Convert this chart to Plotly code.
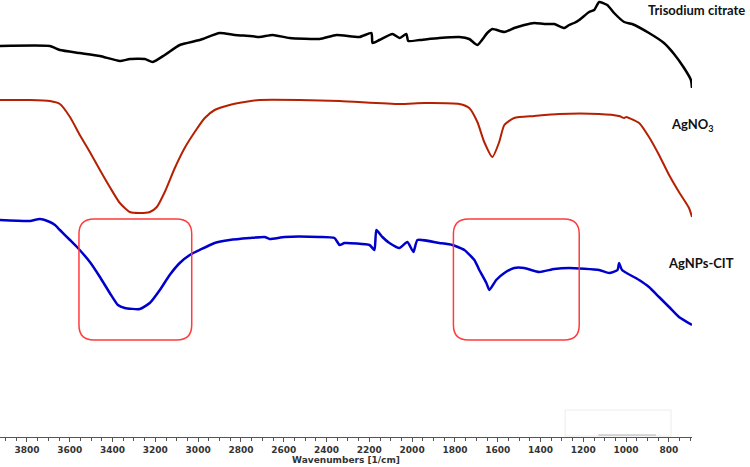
import plotly.graph_objects as go

# FTIR spectra (stacked, arbitrary transmittance offset)
wn_citrate = [3926, 3693, 3646, 3553, 3459, 3366, 3319, 3249, 3212, 3156,
              3086, 2993, 2899, 2829, 2759, 2713, 2652, 2573, 2433, 2353,
              2246, 2190, 2185, 2153, 2092, 2059, 2027, 2018, 1966, 1873,
              1779, 1733, 1695, 1649, 1625, 1569, 1523, 1476, 1429, 1383,
              1336, 1289, 1266, 1243, 1219, 1173, 1149, 1126, 1088, 1056,
              1009, 972, 893, 823, 776, 729, 697, 692]
t_citrate = [391, 391, 387, 384, 381, 376, 378, 378, 375, 382,
             392, 397, 404, 402, 401, 400, 402, 399, 398, 402,
             400, 404, 394, 397, 403, 399, 403, 396, 397, 399,
             400, 398, 392, 404, 408, 405, 409, 412, 414, 413,
             413, 409, 412, 414, 417, 425, 427, 435, 432, 424,
             415, 413, 404, 394, 383, 369, 357, 349]

wn_agno3 = [3926, 3786, 3693, 3646, 3599, 3553, 3506, 3459, 3413, 3366,
            3319, 3273, 3226, 3193, 3156, 3109, 3063, 3016, 2969, 2923,
            2853, 2783, 2713, 2526, 2339, 2059, 1943, 1779, 1733, 1695,
            1663, 1625, 1593, 1569, 1523, 1429, 1313, 1126, 1033, 1009,
            998, 986, 939, 893, 846, 799, 753, 706, 692]
t_agno3 = [337, 337, 336, 333, 320, 302, 285, 267, 250, 234,
           225, 224, 225, 230, 245, 269, 289, 305, 319, 327,
           332, 335, 337, 337, 336, 333, 334, 333, 329, 315,
           295, 280, 295, 312, 319, 321, 323, 323, 321, 319,
           320, 319, 314, 300, 282, 262, 245, 229, 220]

wn_agnps = [3926, 3786, 3740, 3693, 3669, 3646, 3599, 3562, 3506, 3459,
            3413, 3375, 3343, 3273, 3226, 3179, 3133, 3086, 3039, 2993,
            2923, 2853, 2759, 2689, 2666, 2596, 2433, 2363, 2339, 2316,
            2199, 2176, 2167, 2139, 2106, 2059, 2022, 1994, 1975, 1873,
            1812, 1756, 1709, 1686, 1653, 1639, 1607, 1569, 1523, 1476,
            1406, 1336, 1266, 1126, 1079, 1040, 1033, 1019, 939, 893,
            846, 799, 753, 692]
t_agnps = [217, 216, 218, 215, 212, 207, 197, 189, 175, 160,
           144, 132, 129, 128, 134, 147, 162, 174, 182, 187,
           194, 197, 199, 200, 198, 200, 200, 199, 192, 194,
           192, 187, 207, 200, 194, 189, 195, 185, 197, 194,
           192, 187, 177, 167, 154, 147, 157, 164, 169, 169,
           165, 168, 169, 167, 164, 167, 174, 167, 157, 150,
           140, 130, 120, 112]

labels = ["Trisodium citrate", "AgNO<sub>3</sub>", "AgNPs-CIT"]
label_x = [1.006, 1.0, 1.013]
label_y = [427, 312, 174]

# highlighted regions (wavenumber from/to, offset from/to)
box_wn = [(3557, 3030), (1807, 1219)]
box_t = (97, 218)

fig = go.Figure()
fig.add_trace(go.Scatter(x=wn_citrate, y=t_citrate, mode='lines',
                         line=dict(color='#000000', width=2.5, shape='spline', smoothing=0.5)))
fig.add_trace(go.Scatter(x=wn_agno3, y=t_agno3, mode='lines',
                         line=dict(color='#b52100', width=2, shape='spline', smoothing=0.6)))
fig.add_trace(go.Scatter(x=wn_agnps, y=t_agnps, mode='lines',
                         line=dict(color='#0000cc', width=2.5, shape='spline', smoothing=0.5)))


def rounded_box(xl, xr, yb, yt, rx=70, ry=15):
    d = rx if xr > xl else -rx
    return (f"M {xl + d},{yt} L {xr - d},{yt} Q {xr},{yt} {xr},{yt - ry} "
            f"L {xr},{yb + ry} Q {xr},{yb} {xr - d},{yb} L {xl + d},{yb} "
            f"Q {xl},{yb} {xl},{yb + ry} L {xl},{yt - ry} Q {xl},{yt} {xl + d},{yt} Z")


for xl, xr in box_wn:
    fig.add_shape(type='path', xref='x', yref='y',
                  path=rounded_box(xl, xr, box_t[0], box_t[1]),
                  line=dict(color='#ff3b3b', width=1.5))

# faint leftover box near bottom right
fig.add_shape(type='rect', xref='x', yref='y', x0=1285, x1=790, y0=1, y1=27,
              line=dict(color='#ececec', width=1))
fig.add_shape(type='line', xref='x', yref='y', x0=1130, x1=860, y0=2, y1=2,
              line=dict(color='#b0b0b0', width=1))

for txt, x, y in zip(labels, label_x, label_y):
    fig.add_annotation(text=txt, x=x, xref='paper', y=y, yref='y',
                       xanchor='center', yanchor='middle', showarrow=False,
                       font=dict(family='Lato', size=13, color='#111111', weight='bold'))

fig.update_xaxes(range=[3926, 692], tickvals=list(range(800, 3801, 200)),
                 ticks='outside', ticklen=4, tickcolor='#555555',
                 minor=dict(dtick=50, ticks='outside', ticklen=3, tickcolor='#555555'),
                 showline=True, linecolor='#555555', linewidth=1,
                 showgrid=False, zeroline=False,
                 tickfont=dict(family='DejaVu Sans', size=9, color='#333333', weight='bold'),
                 title=dict(text='Wavenumbers [1/cm]', standoff=2,
                            font=dict(family='DejaVu Sans', size=9, color='#333333', weight='bold')))
fig.update_yaxes(range=[0, 437], visible=False)

fig.update_layout(width=750, height=467, margin=dict(l=0, r=58, t=0, b=30),
                  plot_bgcolor='white', paper_bgcolor='white', showlegend=False)

# drop the page's default body margin so the figure sits at the window corner
fig.write_html("out.html", config={'displayModeBar': False},
               post_script="document.body.style.margin='0';document.body.style.padding='0';")
